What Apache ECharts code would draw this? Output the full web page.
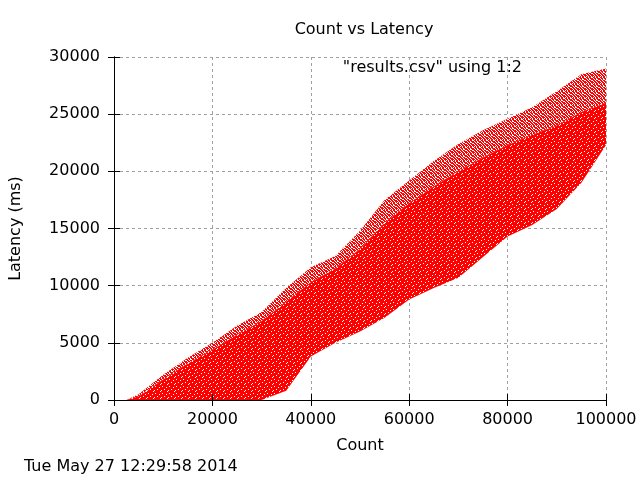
<!DOCTYPE html>
<html>
<head>
<meta charset="utf-8">
<script src="https://cdn.jsdelivr.net/npm/echarts@6/dist/echarts.min.js"></script>
<style>
  html, body { margin: 0; padding: 0; background: #fff; }
  #chart { width: 640px; height: 480px; }
</style>
</head>
<body>
<div id="chart"></div>
<script>
// envelope of the scatter cloud (Count -> Latency ms)
var counts    = [0, 2500, 5000, 10000, 15000, 20000, 25000, 30000, 35000, 40000, 45000,
                 50000, 55000, 60000, 65000, 70000, 75000, 80000, 85000, 90000, 95000, 100000];
var lowerEdge = [0, 0, 0, 0, 0, 0, 0, 0, 800, 3800, 5000,
                 6000, 7200, 8800, 9800, 10700, 12500, 14300, 15300, 16700, 19000, 22300];
var denseTop  = [0, 0, 300, 1800, 3200, 4400, 5700, 6900, 8600, 10300, 11500,
                 13200, 15500, 17200, 18700, 20000, 21200, 22300, 23200, 24000, 25200, 26000];
var upperEdge = [0, 0, 500, 2200, 3700, 5000, 6500, 7700, 9800, 11600, 12600,
                 14800, 17500, 19200, 20900, 22400, 23600, 24600, 25600, 27000, 28500, 29000];

var xTicks = { min: 0, max: 100000, interval: 20000 };
var yTicks = { min: 0, max: 30000, interval: 5000 };

var FONT = 'DejaVu Sans';

function band(bottom, top) {
    var out = [];
    for (var i = 0; i < counts.length; i++) out.push([counts[i], bottom[i], top[i]]);
    return out;
}

// small fixed dot texture so the filled band reads like a dense dot cloud
function speckle(size, holes) {
    var c = document.createElement('canvas');
    c.width = size; c.height = size;
    var ctx = c.getContext('2d');
    ctx.fillStyle = '#ff0000';
    ctx.fillRect(0, 0, size, size);
    ctx.fillStyle = '#ffffff';
    holes.forEach(function (h) { ctx.fillRect(h[0], h[1], 1, 1); });
    return { image: c, repeat: 'repeat' };
}
var coreFill = speckle(7, [[1, 1], [5, 2], [3, 4], [0, 5], [6, 6]]);
var fringeFill = speckle(7, [[0, 0], [3, 0], [4, 0], [1, 1], [5, 1], [2, 2], [6, 2], [0, 3], [3, 3],
                             [4, 3], [1, 4], [5, 4], [2, 5], [6, 5], [0, 6], [3, 6], [1, 2], [5, 6]]);

// whole band as one polygon: along the bottom edge, then back along the top edge
function renderBand(fill) {
    return function (params, api) {
        if (params.dataIndexInside !== 0) return null;
        var n = params.dataInsideLength, lower = [], upper = [];
        for (var j = 0; j < n; j++) {
            lower.push(api.coord([api.value(0, j), api.value(1, j)]));
            upper.push(api.coord([api.value(0, j), api.value(2, j)]));
        }
        return {
            type: 'polygon',
            shape: { points: lower.concat(upper.reverse()) },
            style: { fill: fill }
        };
    };
}

var chart = echarts.init(document.getElementById('chart'), null, { renderer: 'canvas' });

var gridLine = { show: true, lineStyle: { color: '#a0a0a0', type: [3, 3], width: 1 } };
var blackLine = { show: true, lineStyle: { color: '#000', width: 1 } };
var plain = function (v) { return String(v); };

var option = {
    animation: false,
    backgroundColor: '#fff',
    textStyle: { fontFamily: FONT },
    title: {
        text: 'Count vs Latency',
        left: 359,
        top: 17,
        textAlign: 'center',
        textStyle: { fontFamily: FONT, fontSize: 16, fontWeight: 'normal', color: '#000' }
    },
    grid: { left: 112, right: 34, top: 57, bottom: 80 },
    xAxis: [{
        type: 'value', position: 'bottom', min: xTicks.min, max: xTicks.max, interval: xTicks.interval,
        z: 5,
        name: 'Count', nameLocation: 'middle', nameGap: 38,
        nameTextStyle: { fontFamily: FONT, fontSize: 16, color: '#000' },
        axisLine: blackLine,
        axisTick: { show: true, inside: true, length: 6, lineStyle: { color: '#000' } },
        axisLabel: { fontFamily: FONT, fontSize: 16, color: '#000', margin: 12, formatter: plain },
        splitLine: { show: false }
    }, {
        type: 'value', position: 'top', min: xTicks.min, max: xTicks.max, interval: xTicks.interval,
        z: 0,
        axisLine: blackLine,
        axisTick: { show: true, inside: true, length: 6, lineStyle: { color: '#000' } },
        axisLabel: { show: false },
        splitLine: gridLine
    }],
    yAxis: [{
        type: 'value', position: 'left', min: yTicks.min, max: yTicks.max, interval: yTicks.interval,
        z: 0,
        name: 'Latency (ms)', nameLocation: 'middle', nameGap: 90,
        nameTextStyle: { fontFamily: FONT, fontSize: 16, color: '#000' },
        axisLine: blackLine,
        axisTick: { show: true, inside: true, length: 6, lineStyle: { color: '#000' } },
        axisLabel: { fontFamily: FONT, fontSize: 16, color: '#000', margin: 14, formatter: plain },
        splitLine: gridLine
    }, {
        type: 'value', position: 'right', min: yTicks.min, max: yTicks.max, interval: yTicks.interval,
        z: 5,
        axisLine: blackLine,
        axisTick: { show: true, inside: true, length: 6, lineStyle: { color: '#000' } },
        axisLabel: { show: false },
        splitLine: { show: false }
    }],
    graphic: [{
        type: 'text', x: 522, y: 68,
        style: { text: '"results.csv" using 1:2', font: '16px "DejaVu Sans"', fill: '#000',
                 textAlign: 'right', textVerticalAlign: 'middle' }
    }, {
        type: 'text', x: 24, y: 467,
        style: { text: 'Tue May 27 12:29:58 2014', font: '16px "DejaVu Sans"', fill: '#000',
                 textAlign: 'left', textVerticalAlign: 'middle' }
    }],
    series: [{
        name: 'fringe', type: 'custom', renderItem: renderBand(fringeFill), silent: true, clip: true,
        encode: { x: 0, y: [1, 2] },
        data: band(denseTop, upperEdge)
    }, {
        name: '"results.csv" using 1:2', type: 'custom', renderItem: renderBand(coreFill), silent: true, clip: true,
        encode: { x: 0, y: [1, 2] },
        data: band(lowerEdge, denseTop)
    }]
};
chart.setOption(option);
</script>
</body>
</html>
